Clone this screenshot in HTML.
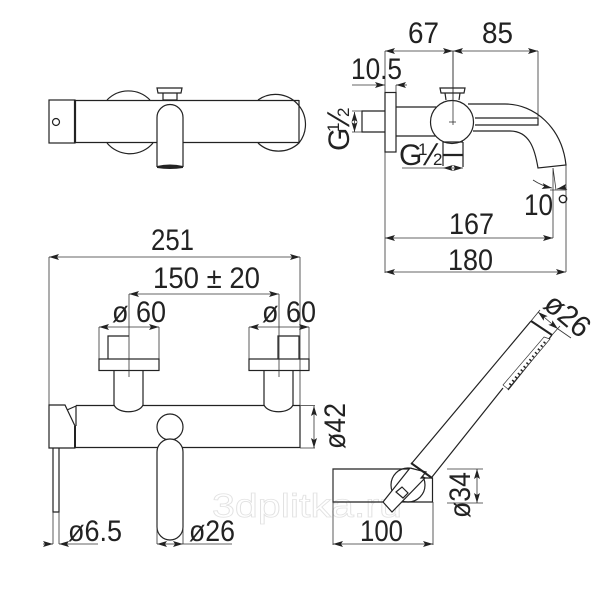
<!DOCTYPE html>
<html><head><meta charset="utf-8"><style>
html,body{margin:0;padding:0;background:#fff}
svg{display:block}
text{font-family:"Liberation Sans",sans-serif;font-size:30px;fill:#222}
.s{font-size:17px}
.o{fill:none;stroke:#222;stroke-width:1.2}
.w{fill:#fff;stroke:#222;stroke-width:1.2}
.d{fill:none;stroke:#333;stroke-width:.8}
</style></head><body>
<svg width="615" height="607" viewBox="0 0 615 607" xmlns="http://www.w3.org/2000/svg">
<defs>
<marker id="e" viewBox="0 0 10 6" refX="10" refY="3" markerWidth="10" markerHeight="6" orient="auto-start-reverse" markerUnits="userSpaceOnUse"><path d="M0 0L10 3L0 6L2 3Z" fill="#222"/></marker>
</defs>

<!-- watermark -->
<text x="212" y="517" textLength="190" lengthAdjust="spacingAndGlyphs" style="font-size:33px;fill:#fff;stroke:#e2e2e2;stroke-width:.8">3dplitka.ru</text>

<!-- top-left view -->
<path class="o" d="M107 100A30 30 0 0 1 150 100M107 143A30 30 0 0 0 153 143M258 100A30 30 0 0 1 299 143A30 30 0 0 1 258 143"/>
<path class="o" d="M299 100V143"/>
<path class="o" d="M75 100.500H299M75 142.500H299"/>
<rect class="o" x="49" y="100" width="26" height="43"/>
<path d="M75 100V143" stroke="#222" stroke-width="2.200"/>
<circle class="o" cx="56" cy="122" r="3.500"/>
<path class="w" d="M157 167V117.500A13 13 0 0 1 183 117.500V167"/>
<path d="M157 166Q170 163 183 166V168Q170 170 157 168Z" fill="#222"/>
<path class="o" d="M157 88H182L181 93H158Z"/>
<path class="o" d="M163 93V100H177V93"/>

<!-- top-right view -->
<path class="d" d="M385 51V273M453 51V124M538 51V117" />
<path class="d" d="M385 51H453" marker-start="url(#e)" marker-end="url(#e)"/>
<path class="d" d="M453 51H538" marker-start="url(#e)" marker-end="url(#e)"/>
<text x="408" y="43" textLength="31" lengthAdjust="spacingAndGlyphs">67</text>
<text x="482" y="43" textLength="31" lengthAdjust="spacingAndGlyphs">85</text>
<text x="351" y="79" textLength="51" lengthAdjust="spacingAndGlyphs">10.5</text>
<path class="d" d="M352 85H385" marker-end="url(#e)"/>
<path class="d" d="M407 85H396" marker-end="url(#e)"/>
<path class="d" d="M396 85V93"/>
<rect class="o" x="385" y="92.500" width="11" height="59.500"/>
<path class="o" d="M385 111H362V132H385"/>
<path class="d" d="M352 111H362M352 132H362"/>
<path class="d" d="M354.500 112V132" marker-start="url(#e)" marker-end="url(#e)"/>
<g transform="translate(349 151) rotate(-90)">
<text x="0" y="0">G</text>
<text class="s" x="19" y="-10">1</text>
<text transform="translate(24 0) skewX(-18)" x="0" y="0">/</text>
<text class="s" x="34" y="0">2</text>
</g>
<path class="o" d="M396 107H436M396 136H436"/>
<path class="o" d="M468 104H505C535 104 562 128 566 165L538 168C535 150 530 131 510 131H473"/>
<path class="o" d="M475 118H538V125H475"/>
<circle class="w" cx="452" cy="122" r="21.500"/>
<path class="d" d="M449 122H456"/>
<path class="d" d="M453 51V125"/>
<path class="o" d="M440 88H465L464 93H441Z"/>
<path class="o" d="M445 93L446 100M460 93L459 100"/>
<path class="o" d="M443 142V166M463 142V167M443 142H463"/>
<path d="M443 155H463" stroke="#222" stroke-width="2.200"/>
<g transform="translate(399 165)">
<text x="0" y="0">G</text>
<text class="s" x="19" y="-10">1</text>
<text transform="translate(24 0) skewX(-18)" x="0" y="0">/</text>
<text class="s" x="34" y="0">2</text>
</g>
<path class="d" d="M402 168H443"/>
<path class="d" d="M443 168H463" marker-start="url(#e)" marker-end="url(#e)"/>
<path class="d" d="M553 168V238M553 168L556 190M566 165V272M550 190H566"/>
<path class="d" d="M533 180Q542 186 552 188" marker-end="url(#e)"/>
<path class="d" d="M566 187L557 189" marker-end="url(#e)"/>
<text x="524" y="215" textLength="29" lengthAdjust="spacingAndGlyphs">10</text>
<circle cx="563" cy="199" r="3.700" fill="none" stroke="#222" stroke-width="1.300"/>
<text x="449" y="234" textLength="45" lengthAdjust="spacingAndGlyphs">167</text>
<path class="d" d="M385 238H553" marker-start="url(#e)" marker-end="url(#e)"/>
<text x="448" y="270" textLength="45" lengthAdjust="spacingAndGlyphs">180</text>
<path class="d" d="M385 272H566" marker-start="url(#e)" marker-end="url(#e)"/>

<!-- bottom-left view -->
<text x="151" y="250" textLength="43" lengthAdjust="spacingAndGlyphs">251</text>
<path class="d" d="M49 257H300" marker-start="url(#e)" marker-end="url(#e)"/>
<path class="d" d="M49 257V406M300 257V405"/>
<text x="153" y="288" textLength="107" lengthAdjust="spacingAndGlyphs">150 ± 20</text>
<path class="d" d="M129 294H279" marker-start="url(#e)" marker-end="url(#e)"/>
<text x="112" y="322" textLength="54" lengthAdjust="spacingAndGlyphs">ø 60</text>
<text x="262" y="322" textLength="54" lengthAdjust="spacingAndGlyphs">ø 60</text>
<path class="d" d="M99 327H159" marker-start="url(#e)" marker-end="url(#e)"/>
<path class="d" d="M249 327H309" marker-start="url(#e)" marker-end="url(#e)"/>
<path class="d" d="M99 327V360M159 327V360M249 327V360M309 327V360"/>

<path class="o" d="M108 359V336H129M278 359V336H299V359"/>
<rect class="o" x="99" y="359" width="60" height="11.500"/>
<rect class="o" x="249" y="359" width="60" height="11.500"/>
<path class="o" d="M114 371V405C118 414 139 414 143 405V371"/>
<path class="o" d="M264 371V405C268 414 289 414 293 405V371"/>
<path class="d" d="M129 294V377M279 294V377"/>
<path class="o" d="M76 405.500H114M143 405.500H264M293 405.500H300M300 405.500V448M76 447.500H300"/>
<path class="w" d="M49 405L65 405L75 426V448H49Z"/>
<path d="M75 426V448" stroke="#222" stroke-width="2"/>
<path class="o" d="M67 410L76 406V426"/>
<path class="o" d="M53 448V512H59V448"/>
<path class="d" d="M53 512V544M59 512V544"/>
<path class="d" d="M43 544H53" marker-end="url(#e)"/>
<path class="d" d="M98 544H59" marker-end="url(#e)"/>
<text x="68" y="541" textLength="54" lengthAdjust="spacingAndGlyphs">ø6.5</text>
<circle class="w" cx="170" cy="427" r="13"/>
<rect class="w" x="157" y="439" width="26" height="101" rx="13"/>
<path class="d" d="M157 520V544M183 520V544"/>
<path class="d" d="M157 544H183" marker-start="url(#e)" marker-end="url(#e)"/>
<path class="d" d="M183 544H232"/>
<text x="189" y="541" textLength="46" lengthAdjust="spacingAndGlyphs">ø26</text>
<path class="d" d="M300 405.500H315M300 448H315"/>
<path class="d" d="M314 406V448" marker-start="url(#e)" marker-end="url(#e)"/>
<text transform="translate(345 449) rotate(-90)" x="0" y="0" textLength="46" lengthAdjust="spacingAndGlyphs">ø42</text>

<!-- bottom-right view -->
<circle class="o" cx="408" cy="485" r="17"/>
<path class="w" d="M333 469H410L425 478H432.500V502H333Z" style="fill:none"/>
<path class="d" d="M333 469V545M433 502V545"/>
<path class="d" d="M333 544H433" marker-start="url(#e)" marker-end="url(#e)"/>
<text x="360" y="541" textLength="43" lengthAdjust="spacingAndGlyphs">100</text>
<path class="w" d="M410 468L383 502L392 512L425 478L421 478L426 472Z"/>
<path class="o" d="M396 492L402 487L408 493L403 498Z"/>
<path class="o" d="M412 463L531 321M432 477L503 388M508 390L552 335"/>
<path d="M531 321L552 335M411 463L432 478" stroke="#222" stroke-width="2"/>
<path d="M544 337L550 339L508 389L503 385Z" fill="#fff" stroke="#333" stroke-width=".7"/>
<path d="M545 342L508 387" stroke="#222" stroke-width="2.500" stroke-dasharray="1.500 3"/>
<path class="d" d="M531 321L540 310M552 335L560 326"/>
<path class="d" d="M538 312L558 329" marker-start="url(#e)" marker-end="url(#e)"/>
<path class="d" d="M558 329L571 338"/>
<text transform="translate(542 307) rotate(40)" x="0" y="0" textLength="50" lengthAdjust="spacingAndGlyphs">ø26</text>
<path class="d" d="M447 469H483M447 503H483"/>
<path class="d" d="M477 469V503" marker-start="url(#e)" marker-end="url(#e)"/>
<text transform="translate(470 518) rotate(-90)" x="0" y="0" textLength="46" lengthAdjust="spacingAndGlyphs">ø34</text>
</svg>
</body></html>
